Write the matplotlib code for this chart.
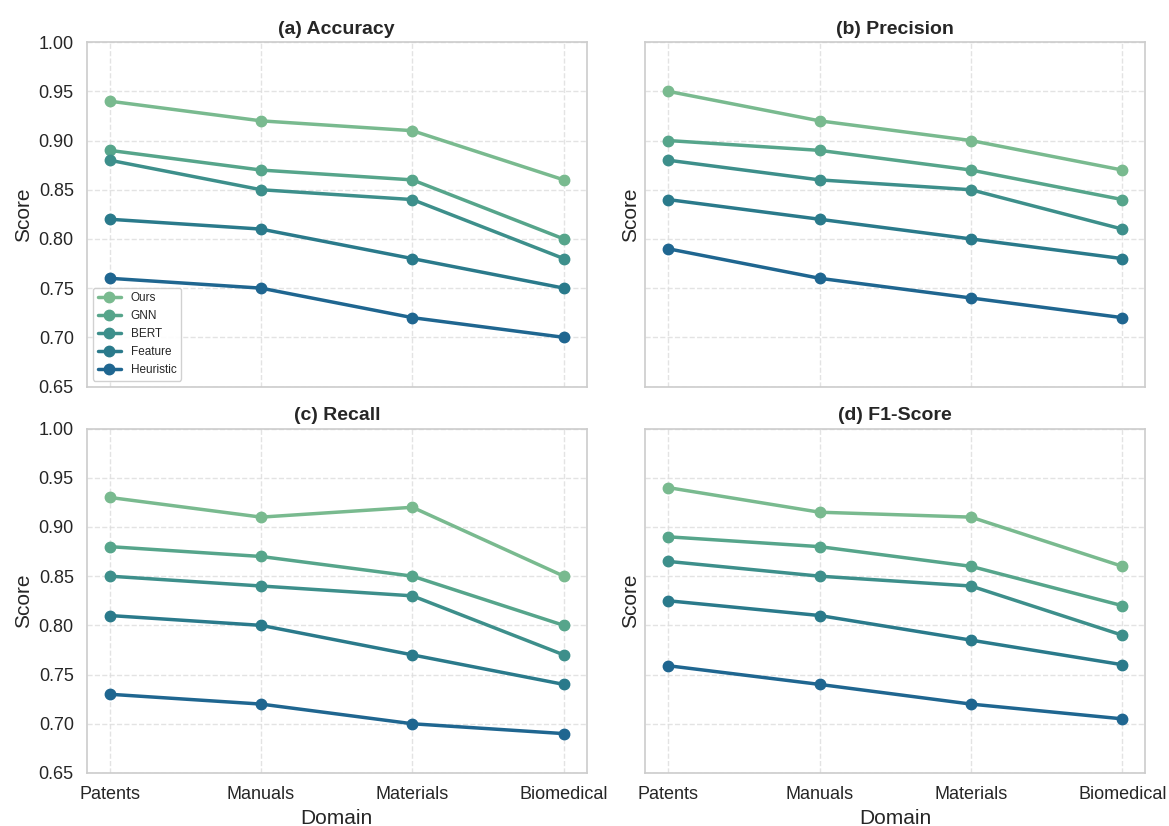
import numpy as np
import matplotlib

matplotlib.use("Agg")
import matplotlib.pyplot as plt
import seaborn as sns

domains = ["Patents", "Manuals", "Materials", "Biomedical"]
methods = ["Ours", "GNN", "BERT", "Feature", "Heuristic"]

accuracy = {
    "Ours": [0.94, 0.92, 0.91, 0.86],
    "GNN": [0.89, 0.87, 0.86, 0.80],
    "BERT": [0.88, 0.85, 0.84, 0.78],
    "Feature": [0.82, 0.81, 0.78, 0.75],
    "Heuristic": [0.76, 0.75, 0.72, 0.70],
}
precision = {
    "Ours": [0.95, 0.92, 0.90, 0.87],
    "GNN": [0.90, 0.89, 0.87, 0.84],
    "BERT": [0.88, 0.86, 0.85, 0.81],
    "Feature": [0.84, 0.82, 0.80, 0.78],
    "Heuristic": [0.79, 0.76, 0.74, 0.72],
}
recall = {
    "Ours": [0.93, 0.91, 0.92, 0.85],
    "GNN": [0.88, 0.87, 0.85, 0.80],
    "BERT": [0.85, 0.84, 0.83, 0.77],
    "Feature": [0.81, 0.80, 0.77, 0.74],
    "Heuristic": [0.73, 0.72, 0.70, 0.69],
}
f1 = {
    "Ours": [0.94, 0.915, 0.91, 0.86],
    "GNN": [0.89, 0.88, 0.86, 0.82],
    "BERT": [0.865, 0.85, 0.84, 0.79],
    "Feature": [0.825, 0.81, 0.785, 0.76],
    "Heuristic": [0.759, 0.74, 0.72, 0.705],
}

panels = [
    ("(a) Accuracy", accuracy),
    ("(b) Precision", precision),
    ("(c) Recall", recall),
    ("(d) F1-Score", f1),
]

# greenish -> teal -> blue
colors = ["#79ba8f", "#56a58b", "#3d8f8b", "#2a7a8b", "#1f6690"]

sns.set_theme(style="whitegrid")
plt.rcParams["font.family"] = ["Liberation Sans", "DejaVu Sans"]

fig, axes = plt.subplots(2, 2, figsize=(11.69, 8.26), sharex=True, sharey=True)

for idx, (title, data) in enumerate(panels):
    ax = axes[idx // 2][idx % 2]
    x = np.arange(len(domains))
    for m, c in zip(methods, colors):
        ax.plot(x, data[m], marker="o", color=c, lw=2.5, ms=7.5, label=m)
    ax.set_title(title, fontsize=14, fontweight="bold")
    ax.set_ylim(0.65, 1.0)
    ax.set_xticks(x)
    ax.set_xticklabels(domains, fontsize=13)
    ax.tick_params(axis="y", labelsize=13)
    ax.set_ylabel("Score", fontsize=15)
    if idx >= 2:
        ax.set_xlabel("Domain", fontsize=15)
    ax.grid(True, ls="--", lw=1, color="#dddddd", alpha=0.8)
    for s in ax.spines.values():
        s.set_color("#cccccc")
        s.set_linewidth(1.2)
    ax.tick_params(axis="y", labelleft=(idx % 2 == 0))

axes[0][0].legend(loc="lower left", fontsize=8.5, framealpha=0.9)

fig.subplots_adjust(left=0.0744, right=0.9795, top=0.949, bottom=0.0642,
                    wspace=0.118, hspace=0.122)
fig.savefig("out.png", dpi=100)
